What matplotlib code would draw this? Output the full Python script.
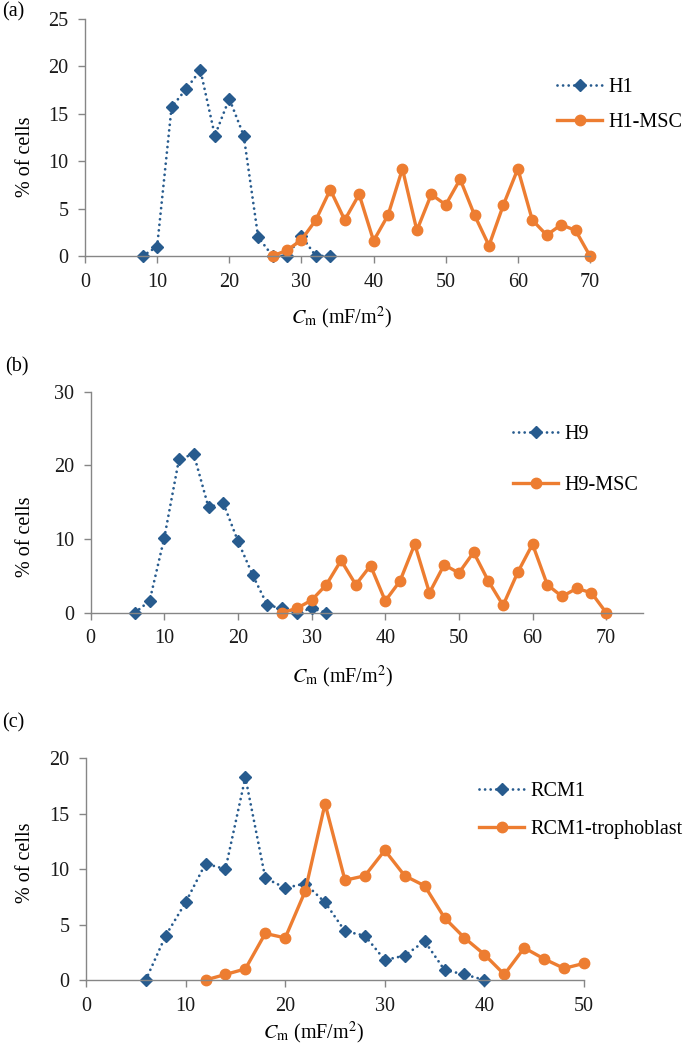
import matplotlib
matplotlib.use("Agg")
import matplotlib.pyplot as plt

plt.rcParams['font.family'] = ['Liberation Serif', 'DejaVu Serif']
plt.rcParams['mathtext.fontset'] = 'stix'
plt.rcParams['font.size'] = 14.5

# ---- data ----
x_h1 = [8, 10, 12, 14, 16, 18, 20, 22, 24, 26, 28, 30, 32, 34]
y_h1 = [0, 1.0, 15.7, 17.6, 19.6, 12.7, 16.6, 12.7, 2.0, 0, 0, 2.1, 0, 0]
x_h1msc = [26, 28, 30, 32, 34, 36, 38, 40, 42, 44, 46, 48, 50, 52, 54, 56, 58, 60, 62, 64, 66, 68, 70]
y_h1msc = [0, 0.6, 1.7, 3.8, 7.0, 3.8, 6.5, 1.6, 4.3, 9.2, 2.7, 6.5, 5.4, 8.1, 4.3, 1.1, 5.4, 9.2, 3.8, 2.2, 3.3, 2.7, 0]

x_h9 = [6, 8, 10, 12, 14, 16, 18, 20, 22, 24, 26, 28, 30, 32]
y_h9 = [0, 1.6, 10.2, 20.9, 21.5, 14.3, 14.9, 9.7, 5.1, 1.0, 0.6, 0, 0.6, 0]
x_h9msc = [26, 28, 30, 32, 34, 36, 38, 40, 42, 44, 46, 48, 50, 52, 54, 56, 58, 60, 62, 64, 66, 68, 70]
y_h9msc = [0, 0.6, 1.7, 3.8, 7.1, 3.8, 6.4, 1.6, 4.3, 9.3, 2.7, 6.5, 5.4, 8.2, 4.3, 1.0, 5.5, 9.3, 3.8, 2.2, 3.3, 2.7, 0]

x_rcm = [6, 8, 10, 12, 14, 16, 18, 20, 22, 24, 26, 28, 30, 32, 34, 36, 38, 40]
y_rcm = [0, 4.0, 7.0, 10.5, 10.0, 18.3, 9.2, 8.3, 8.7, 7.0, 4.4, 4.0, 1.8, 2.2, 3.5, 0.9, 0.5, 0]
x_tro = [12, 14, 16, 18, 20, 22, 24, 26, 28, 30, 32, 34, 36, 38, 40, 42, 44, 46, 48, 50]
y_tro = [0, 0.5, 1.0, 4.2, 3.8, 8.0, 15.9, 9.0, 9.4, 11.7, 9.4, 8.5, 5.6, 3.8, 2.3, 0.5, 2.9, 1.9, 1.05, 1.5]

BLUE = '#275B8E'
ORANGE = '#ED7D31'
GRAY = '#868686'
FS = 14.5

W, H = 686, 1047
fig = plt.figure(figsize=(W / 100, H / 100), dpi=100)


def px_axes(l, t, r, b):
    return fig.add_axes([l / W, 1 - b / H, (r - l) / W, (b - t) / H])


def panel(ax, xb, yb, xo, yo, lab_b, lab_o, xlim, ylim, yticks, xticks):
    ax.plot(xb, yb, color=BLUE, lw=2.0, linestyle=(0, (0.01, 2.0)),
            dash_capstyle='round', marker='D', ms=6.5, mec=BLUE, mfc=BLUE, label=lab_b)
    ax.plot(xo, yo, color=ORANGE, lw=2.4, marker='o', ms=7.5, mec=ORANGE, mfc=ORANGE,
            label=lab_o)
    ax.set_xlim(*xlim)
    ax.set_ylim(*ylim)
    ax.set_xticks(xticks)
    ax.set_yticks(yticks)
    for s in ['top', 'right']:
        ax.spines[s].set_visible(False)
    for s in ['left', 'bottom']:
        ax.spines[s].set_color(GRAY)
        ax.spines[s].set_linewidth(1.0)
    ax.tick_params(axis='both', color=GRAY, length=5, width=1.0, labelsize=FS,
                   labelcolor='#1a1a1a', direction='out')
    ax.tick_params(axis='x', pad=7)
    ax.tick_params(axis='y', pad=7)
    for ln in ax.get_lines():
        ln.set_clip_on(False)


xlabel = r'$C_{\mathrm{m}}$ (mF/m$^{2}$)'


def add_legend(ax, x, y, ls):
    ax.legend(loc='upper left', bbox_to_anchor=(x / W, 1 - y / H), bbox_transform=fig.transFigure,
              frameon=False, borderpad=0, borderaxespad=0, handlelength=2.25, handletextpad=0.3,
              labelspacing=ls, fontsize=FS)


# (a)
ax1 = px_axes(85, 19, 590, 256)
panel(ax1, x_h1, y_h1, x_h1msc, y_h1msc, 'H1', 'H1-MSC', (0, 70), (0, 25),
      [0, 5, 10, 15, 20, 25], [0, 10, 20, 30, 40, 50, 60, 70])
fig.text(2 / W, 1 - 12 / H, '(a)', fontsize=FS, va='center', ha='left')
fig.text(25 / W, 1 - 157 / H, '% of cells', fontsize=FS, rotation=90, va='center', ha='center')
fig.text(342 / W, 1 - 318 / H, xlabel, fontsize=FS, va='center', ha='center')
add_legend(ax1, 557, 78, 0.8)

# (b)
ax2 = px_axes(90.7, 391.7, 643, 612.7)
panel(ax2, x_h9, y_h9, x_h9msc, y_h9msc, 'H9', 'H9-MSC', (0, 75), (0, 30),
      [0, 10, 20, 30], [0, 10, 20, 30, 40, 50, 60, 70])
fig.text(5 / W, 1 - 367 / H, '(b)', fontsize=FS, va='center', ha='left')
fig.text(25 / W, 1 - 537 / H, '% of cells', fontsize=FS, rotation=90, va='center', ha='center')
fig.text(343 / W, 1 - 677 / H, xlabel, fontsize=FS, va='center', ha='center')
add_legend(ax2, 513, 425, 1.6)

# (c)
ax3 = px_axes(86, 758.3, 584, 980)
panel(ax3, x_rcm, y_rcm, x_tro, y_tro, 'RCM1', 'RCM1-trophoblast', (0, 50), (0, 20),
      [0, 5, 10, 15, 20], [0, 10, 20, 30, 40, 50])
fig.text(2 / W, 1 - 723 / H, '(c)', fontsize=FS, va='center', ha='left')
fig.text(25 / W, 1 - 863 / H, '% of cells', fontsize=FS, rotation=90, va='center', ha='center')
fig.text(314 / W, 1 - 1033 / H, xlabel, fontsize=FS, va='center', ha='center')
add_legend(ax3, 479, 782, 0.95)

fig.savefig('out.png', dpi=100)
